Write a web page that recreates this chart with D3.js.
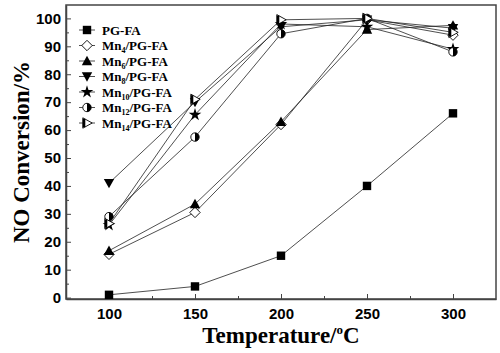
<!DOCTYPE html>
<html>
<head>
<meta charset="utf-8">
<script src="https://cdn.jsdelivr.net/npm/d3@7"></script>
<style>
  body { margin: 0; background: #fff; }
  svg { display: block; font-family: "Liberation Serif", "Times New Roman", serif; }
</style>
</head>
<body>
<div id="chart-container"></div>
<script>
// Dữ liệu
const temps = [100, 150, 200, 250, 300];
const seriesNames = ["PG-FA", "Mn4/PG-FA", "Mn6/PG-FA", "Mn8/PG-FA", "Mn10/PG-FA", "Mn12/PG-FA", "Mn14/PG-FA"];
const subs = ["", "4", "6", "8", "10", "12", "14"];
const pgfa = [1, 4, 15, 40, 66];
const mn4 = [15.5, 30.5, 62, 99.5, 94];
const mn6 = [16.8, 33.5, 63, 96, 97.5];
const mn8 = [41, 70, 97, 99.5, 96.5];
const mn10 = [26, 65.5, 98, 97, 89];
const mn12 = [29, 57.5, 94.5, 100, 88];
const mn14 = [26.5, 71, 99.5, 100, 95];
const allValues = [pgfa, mn4, mn6, mn8, mn10, mn12, mn14];
const xTicks = [100, 150, 200, 250, 300];
const yTicks = [0, 10, 20, 30, 40, 50, 60, 70, 80, 90, 100];

const width = 500, height = 353;
const margin = { top: 5, right: 4, bottom: 54, left: 66 };
const w = width - margin.left - margin.right;
const h = height - margin.top - margin.bottom;

const svg = d3.select("#chart-container").append("svg")
    .attr("width", width).attr("height", height);
const g = svg.append("g").attr("transform", `translate(${margin.left},${margin.top})`);

const x = d3.scaleLinear().domain([75, 325]).range([0, w]);
const y = d3.scaleLinear().domain([-0.5, 104.8]).range([h, 0]);

// Trục
const axisColor = "#444";
const xAxis = g.append("g").attr("transform", `translate(0,${h})`)
    .call(d3.axisBottom(x).tickValues(xTicks).tickSize(-5).tickPadding(9).tickSizeOuter(0));
const yAxis = g.append("g")
    .call(d3.axisLeft(y).tickValues(yTicks).tickSize(-5).tickPadding(5).tickSizeOuter(0));
// minor ticks
g.append("g").attr("transform", `translate(0,${h})`)
    .call(d3.axisBottom(x).tickValues([125, 175, 225, 275]).tickSize(-3).tickFormat(""))
    .call(a => a.select(".domain").remove());
g.append("g")
    .call(d3.axisLeft(y).tickValues(d3.range(5, 100, 10)).tickSize(-3).tickFormat(""))
    .call(a => a.select(".domain").remove());

[xAxis, yAxis].forEach(a => {
    a.selectAll("text").style("font-size", "15px").style("font-weight", "bold").attr("fill", "#000");
});
g.selectAll(".tick line").attr("stroke", axisColor);
g.selectAll(".domain").attr("stroke", axisColor).attr("stroke-width", 1.5);

// khung
g.append("rect").attr("x", 0).attr("y", 0).attr("width", w).attr("height", h)
    .attr("fill", "none").attr("stroke", axisColor).attr("stroke-width", 1.5);

// Ký hiệu
function drawMarker(sel, i, cx, cy) {
    const s = 4.2;
    const m = sel.append("g").attr("transform", `translate(${cx},${cy})`);
    if (i === 0) {
        m.append("rect").attr("x", -s).attr("y", -s).attr("width", 2 * s).attr("height", 2 * s).attr("fill", "#000");
    } else if (i === 1) {
        m.append("path").attr("d", `M0,${-s - 1}L${s + 1},0L0,${s + 1}L${-s - 1},0Z`)
            .attr("fill", "#fff").attr("stroke", "#000").attr("stroke-width", 0.9);
    } else if (i === 2) {
        m.append("path").attr("d", `M0,${-s - 1}L${s + 1},${s}L${-s - 1},${s}Z`).attr("fill", "#000");
    } else if (i === 3) {
        m.append("path").attr("d", `M0,${s + 1}L${s + 1},${-s}L${-s - 1},${-s}Z`).attr("fill", "#000");
    } else if (i === 4) {
        m.append("path").attr("d", d3.symbol(d3.symbolStar, 50)()).attr("fill", "#000");
    } else if (i === 5) {
        m.append("circle").attr("r", s).attr("fill", "#fff").attr("stroke", "#000").attr("stroke-width", 0.9);
        m.append("path").attr("d", `M0,${-s}A${s},${s} 0 0 1 0,${s}Z`).attr("fill", "#000");
    } else {
        m.append("path").attr("d", `M${s + 1},0L${-s},${-s - 1}L${-s},${s + 1}Z`)
            .attr("fill", "#fff").attr("stroke", "#000").attr("stroke-width", 0.9);
        m.append("rect").attr("x", -s).attr("y", -s).attr("width", 2.5).attr("height", 2 * s).attr("fill", "#000");
    }
}

// Đường
const line = d3.line().x((d, i) => x(temps[i])).y(d => y(d));
allValues.forEach((vals, i) => {
    g.append("path").datum(vals).attr("d", line)
        .attr("fill", "none").attr("stroke", "#222").attr("stroke-width", 0.8);
});
allValues.forEach((vals, i) => {
    vals.forEach((v, j) => drawMarker(g, i, x(temps[j]), y(v)));
});

// Chú giải
const legend = svg.append("g").attr("transform", "translate(87,30)");
seriesNames.forEach((name, i) => {
    const ly = i * 15.5;
    legend.append("line").attr("x1", -8).attr("x2", 8).attr("y1", ly).attr("y2", ly)
        .attr("stroke", "#222").attr("stroke-width", 0.8);
    drawMarker(legend, i, 0, ly);
    const t = legend.append("text").attr("x", 15).attr("y", ly + 4.5)
        .style("font-size", "13px").style("font-weight", "bold");
    if (i === 0) {
        t.text("PG-FA");
    } else {
        t.append("tspan").text("Mn");
        t.append("tspan").attr("dy", 3).style("font-size", "8px").text(subs[i]);
        t.append("tspan").attr("dy", -3).text("/PG-FA");
    }
});

// Tiêu đề trục
const xt = svg.append("text").attr("x", margin.left + w / 2).attr("y", 343)
    .attr("text-anchor", "middle").style("font-size", "23px").style("font-weight", "bold");
xt.append("tspan").text("Temperature/");
xt.append("tspan").attr("dy", -9).style("font-size", "13px").text("o");
xt.append("tspan").attr("dy", 9).text("C");

svg.append("text").attr("transform", `translate(29,${margin.top + h / 2}) rotate(-90)`)
    .attr("text-anchor", "middle").style("font-size", "23px").style("font-weight", "bold")
    .text("NO Conversion/%");
</script>
</body>
</html>
